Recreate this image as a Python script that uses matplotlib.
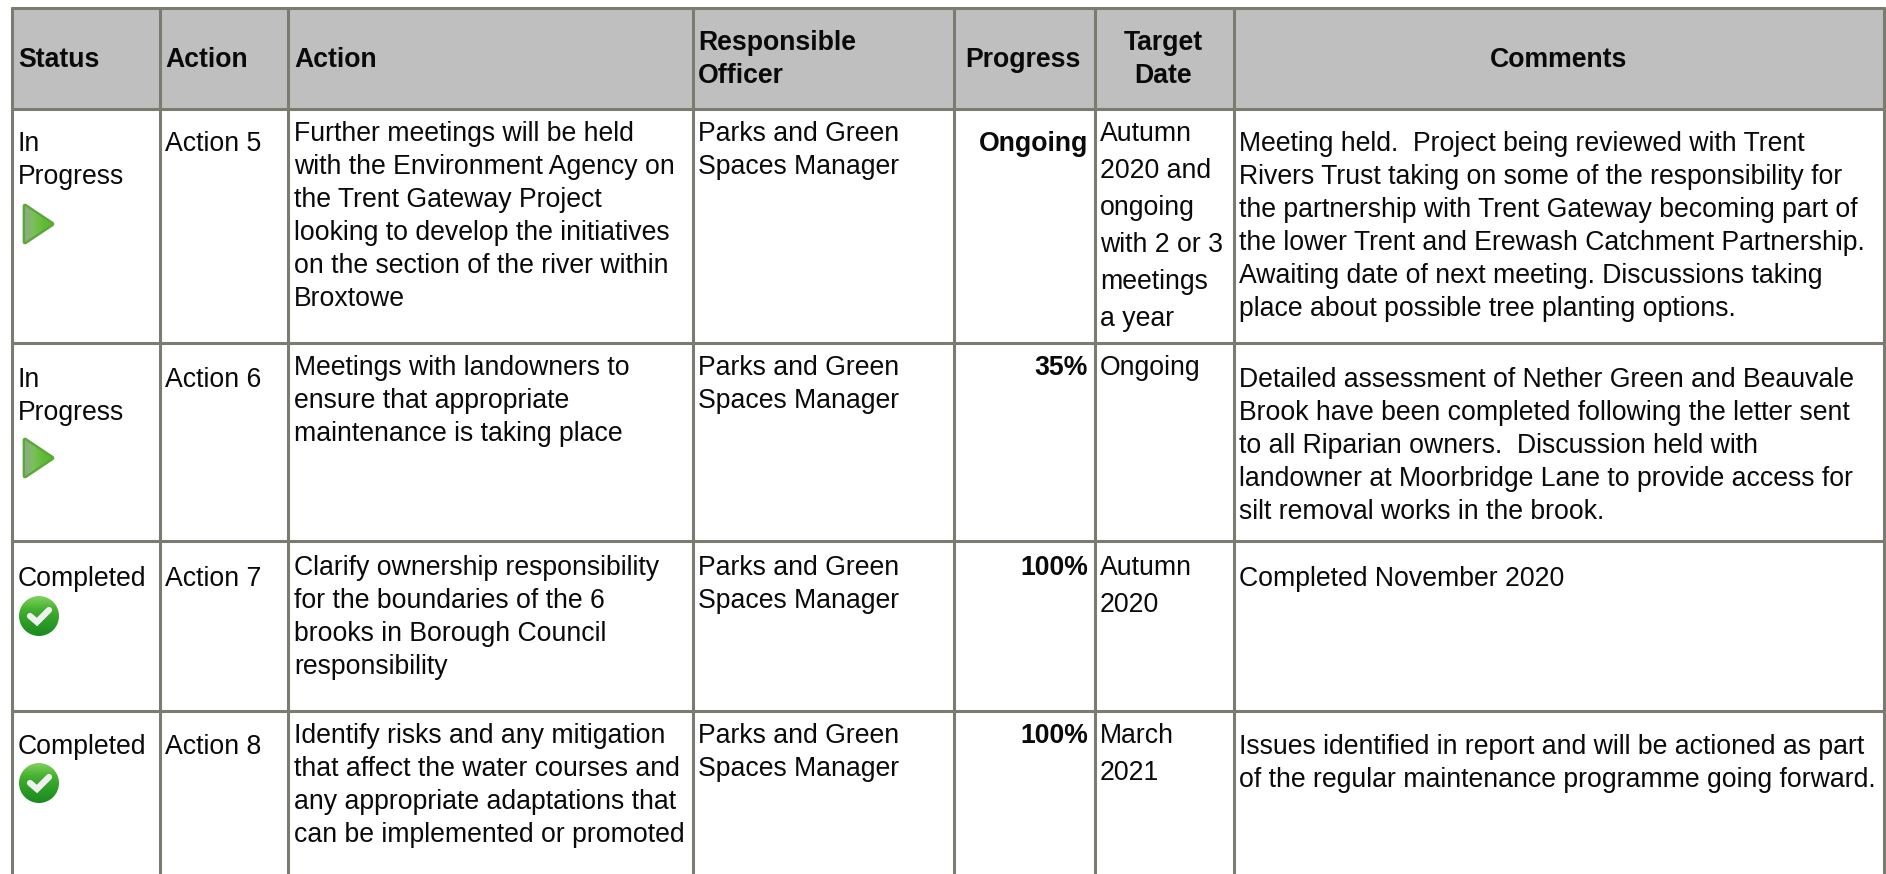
import numpy as np
import matplotlib.pyplot as plt
from matplotlib.patches import Circle, Polygon, Rectangle
from matplotlib.colors import LinearSegmentedColormap

plt.rcParams['font.family'] = ['Liberation Sans', 'DejaVu Sans']

headers = ["Status", "Action", "Action", "Responsible\nOfficer", "Progress", "Target\nDate", "Comments"]
status = ["In\nProgress", "In\nProgress", "Completed", "Completed"]
action_ids = ["Action 5", "Action 6", "Action 7", "Action 8"]
actions = [
    "Further meetings will be held\nwith the Environment Agency on\nthe Trent Gateway Project\nlooking to develop the initiatives\non the section of the river within\nBroxtowe",
    "Meetings with landowners to\nensure that appropriate\nmaintenance is taking place",
    "Clarify ownership responsibility\nfor the boundaries of the 6\nbrooks in Borough Council\nresponsibility",
    "Identify risks and any mitigation\nthat affect the water courses and\nany appropriate adaptations that\ncan be implemented or promoted",
]
officers = ["Parks and Green\nSpaces Manager"] * 4
progress = ["Ongoing", "35%", "100%", "100%"]
target_dates = [
    "Autumn\n2020 and\nongoing\nwith 2 or 3\nmeetings\na year",
    "Ongoing",
    "Autumn\n2020",
    "March\n2021",
]
comments = [
    "Meeting held.  Project being reviewed with Trent\nRivers Trust taking on some of the responsibility for\nthe partnership with Trent Gateway becoming part of\nthe lower Trent and Erewash Catchment Partnership.\nAwaiting date of next meeting. Discussions taking\nplace about possible tree planting options.",
    "Detailed assessment of Nether Green and Beauvale\nBrook have been completed following the letter sent\nto all Riparian owners.  Discussion held with\nlandowner at Moorbridge Lane to provide access for\nsilt removal works in the brook.",
    "Completed November 2020",
    "Issues identified in report and will be actioned as part\nof the regular maintenance programme going forward.",
]

# layout, all in pixels of the 1886x874 image
W, H = 1886, 874
COL_X = [12, 160, 288, 693, 954, 1095, 1234, 1884]
ROW_Y = [8, 109, 343, 541, 711]
HI_SHIFT = [0, 2, 3, 1]
LO_SHIFT = [0, 0, 2, 0]
FS = 19.15
LINE = "#7b7b72"
INK = "#0a0a0a"

fig = plt.figure(figsize=(W / 100, H / 100), dpi=100)
ax = fig.add_axes([0, 0, 1, 1])


def cell_text(x, y, txt, pitch=33, ha="left", weight="normal"):
    for i, part in enumerate(txt.split("\n")):
        ax.text(x, y + i * pitch, part, ha=ha, va="baseline", fontsize=FS,
                color=INK, fontweight=weight)


def play_icon(cy):
    cmap = LinearSegmentedColormap.from_list("g", ["#8fa58a", "#79c15a", "#62bb38", "#58b52c"])
    pts = [(25, cy - 18), (52, cy), (25, cy + 18)]
    ax.add_patch(Polygon(pts, closed=True, fc="#5fb437", ec="#5aa838", lw=3.4,
                         joinstyle="round", zorder=3))
    grad = np.linspace(0, 1, 40).reshape(1, -1)
    im = ax.imshow(grad, cmap=cmap, extent=[24, 53, cy + 20, cy - 20], aspect="auto", zorder=4)
    im.set_clip_path(Polygon(pts, closed=True, transform=ax.transData))


def check_icon(cy):
    cmap = LinearSegmentedColormap.from_list("c", ["#7ed05c", "#45b030", "#2b9c26", "#1c8a22"])
    grad = np.linspace(0, 1, 40).reshape(-1, 1)
    im = ax.imshow(grad, cmap=cmap, extent=[19, 59, cy + 20, cy - 20], aspect="auto", zorder=3)
    im.set_clip_path(Circle((39, cy), 20, transform=ax.transData))
    ax.plot([30, 37, 49], [cy, cy + 6, cy - 6], color="#f0f0f0", lw=4.5,
            solid_capstyle="round", solid_joinstyle="miter", zorder=4)


# header band
ax.add_patch(Rectangle((COL_X[0], ROW_Y[0]), COL_X[-1] - COL_X[0], ROW_Y[1] - ROW_Y[0],
                       fc="#bfbfbf", ec="none", zorder=0))

# grid
for x in COL_X:
    ax.plot([x, x], [ROW_Y[0] - 1, H], color=LINE, lw=2.2, solid_capstyle="butt", zorder=2)
for y in ROW_Y:
    ax.plot([COL_X[0] - 1, COL_X[-1] + 1], [y, y], color=LINE, lw=2.2, solid_capstyle="butt", zorder=2)

# header text
head_pos = [(18, "left"), (165, "left"), (294, "left"), (698, "left"),
            (1023, "center"), (1163, "center"), (1559, "center")]
for (x, ha), txt in zip(head_pos, headers):
    y = 50 if "\n" in txt else 67
    cell_text(x, y, txt, ha=ha, weight="bold")

# body rows
for i, top in enumerate(ROW_Y[1:]):
    hi = top + 42 + HI_SHIFT[i]
    lo = top + 32 + LO_SHIFT[i]
    cell_text(18, hi, status[i])
    cell_text(165, hi, action_ids[i])
    cell_text(294, lo, actions[i])
    cell_text(698, lo, officers[i])
    cell_text(1088, lo if i else hi, progress[i], ha="right", weight="bold")
    cell_text(1100, lo, target_dates[i], pitch=37)
    cell_text(1239, hi, comments[i])
    if "Progress" in status[i]:
        play_icon(top + 115)
    else:
        check_icon(top + 75 if i == 2 else top + 72)

ax.set_xlim(0, W)
ax.set_ylim(H, 0)
ax.axis("off")

fig.savefig("out.png", dpi=100, facecolor="white")
